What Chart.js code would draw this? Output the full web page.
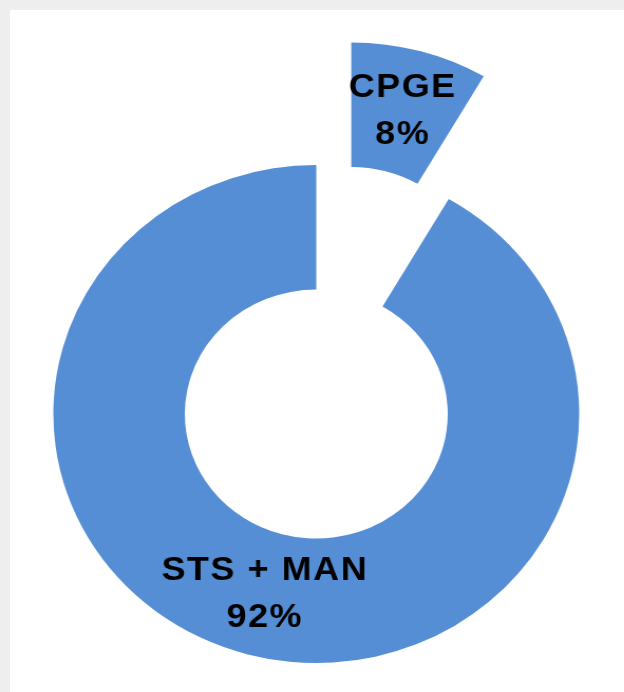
<!DOCTYPE html>
<html>
<head>
<meta charset="utf-8">
<script src="https://cdn.jsdelivr.net/npm/chart.js@4/dist/chart.umd.min.js"></script>
<style>
  html, body { margin: 0; padding: 0; width: 624px; height: 692px; overflow: hidden; background: #eeeeee; }
  #panel { position: absolute; left: 10px; top: 10px; right: 0; bottom: 0; background: #fff; }
  /* the original picture is a little wider than tall, so stretch the canvas */
  #wrap { position: absolute; left: 0; top: 0; transform: scaleX(1.056); transform-origin: 0 0; }
</style>
</head>
<body>
<div id="panel"></div>
<div id="wrap"><canvas id="donut" width="591" height="692"></canvas></div>
<script>
const categories = ['CPGE', 'STS + MAN'];
const shares = [8.4, 91.6];          // parts (8 % / 92 %)

const sliceColor = '#558ed5';
const pullOut = 127;                 // la part CPGE est détachée de l'anneau

// translate an arc outward without changing its radii (Chart.js "offset" also grows the arc)
const baseArcDraw = Chart.ArcElement.prototype.draw;
Chart.ArcElement.prototype.draw = function (ctx) {
  const d = this.$explode || 0;
  if (!d) return baseArcDraw.call(this, ctx);
  const mid = (this.startAngle + this.endAngle) / 2;
  ctx.save();
  ctx.translate(Math.cos(mid) * d, Math.sin(mid) * d);
  baseArcDraw.call(this, ctx);
  ctx.restore();
};

const explodePlugin = {
  id: 'explode',
  afterDatasetUpdate(chart, args) {
    args.meta.data.forEach((arc, i) => { arc.$explode = i === 0 ? pullOut : 0; });
  }
};

const sliceLabels = {
  id: 'sliceLabels',
  afterDatasetsDraw(chart) {
    const ctx = chart.ctx;
    const total = shares.reduce((a, b) => a + b, 0);
    ctx.save();
    ctx.font = 'bold 34px "Liberation Sans", Arial, sans-serif';
    if ('letterSpacing' in ctx) ctx.letterSpacing = '1.5px';
    ctx.fillStyle = '#000';
    ctx.textAlign = 'center';
    ctx.textBaseline = 'middle';
    chart.getDatasetMeta(0).data.forEach((arc, i) => {
      const mid = (arc.startAngle + arc.endAngle) / 2;
      const r = (arc.innerRadius + arc.outerRadius) / 2 + (arc.$explode || 0);
      const x = arc.x + Math.cos(mid) * r;
      const y = arc.y + Math.sin(mid) * r;
      ctx.fillText(categories[i], x, y - 23.5);
      ctx.fillText(Math.round(shares[i] / total * 100) + '%', x, y + 23.5);
    });
    ctx.restore();
  }
};

const data = {
  labels: categories,
  datasets: [{
    data: shares,
    backgroundColor: sliceColor,
    borderWidth: 0,
    radius: 249,
    cutout: '50%'
  }]
};

const config = {
  type: 'doughnut',
  data: data,
  options: {
    responsive: false,
    animation: false,
    events: [],
    layout: { padding: { left: 8, right: 0, top: 136, bottom: 0 } },
    plugins: {
      legend: { display: false },
      tooltip: { enabled: false }
    }
  },
  plugins: [explodePlugin, sliceLabels]
};

const myChart = new Chart(document.getElementById('donut'), config);
</script>
</body>
</html>
